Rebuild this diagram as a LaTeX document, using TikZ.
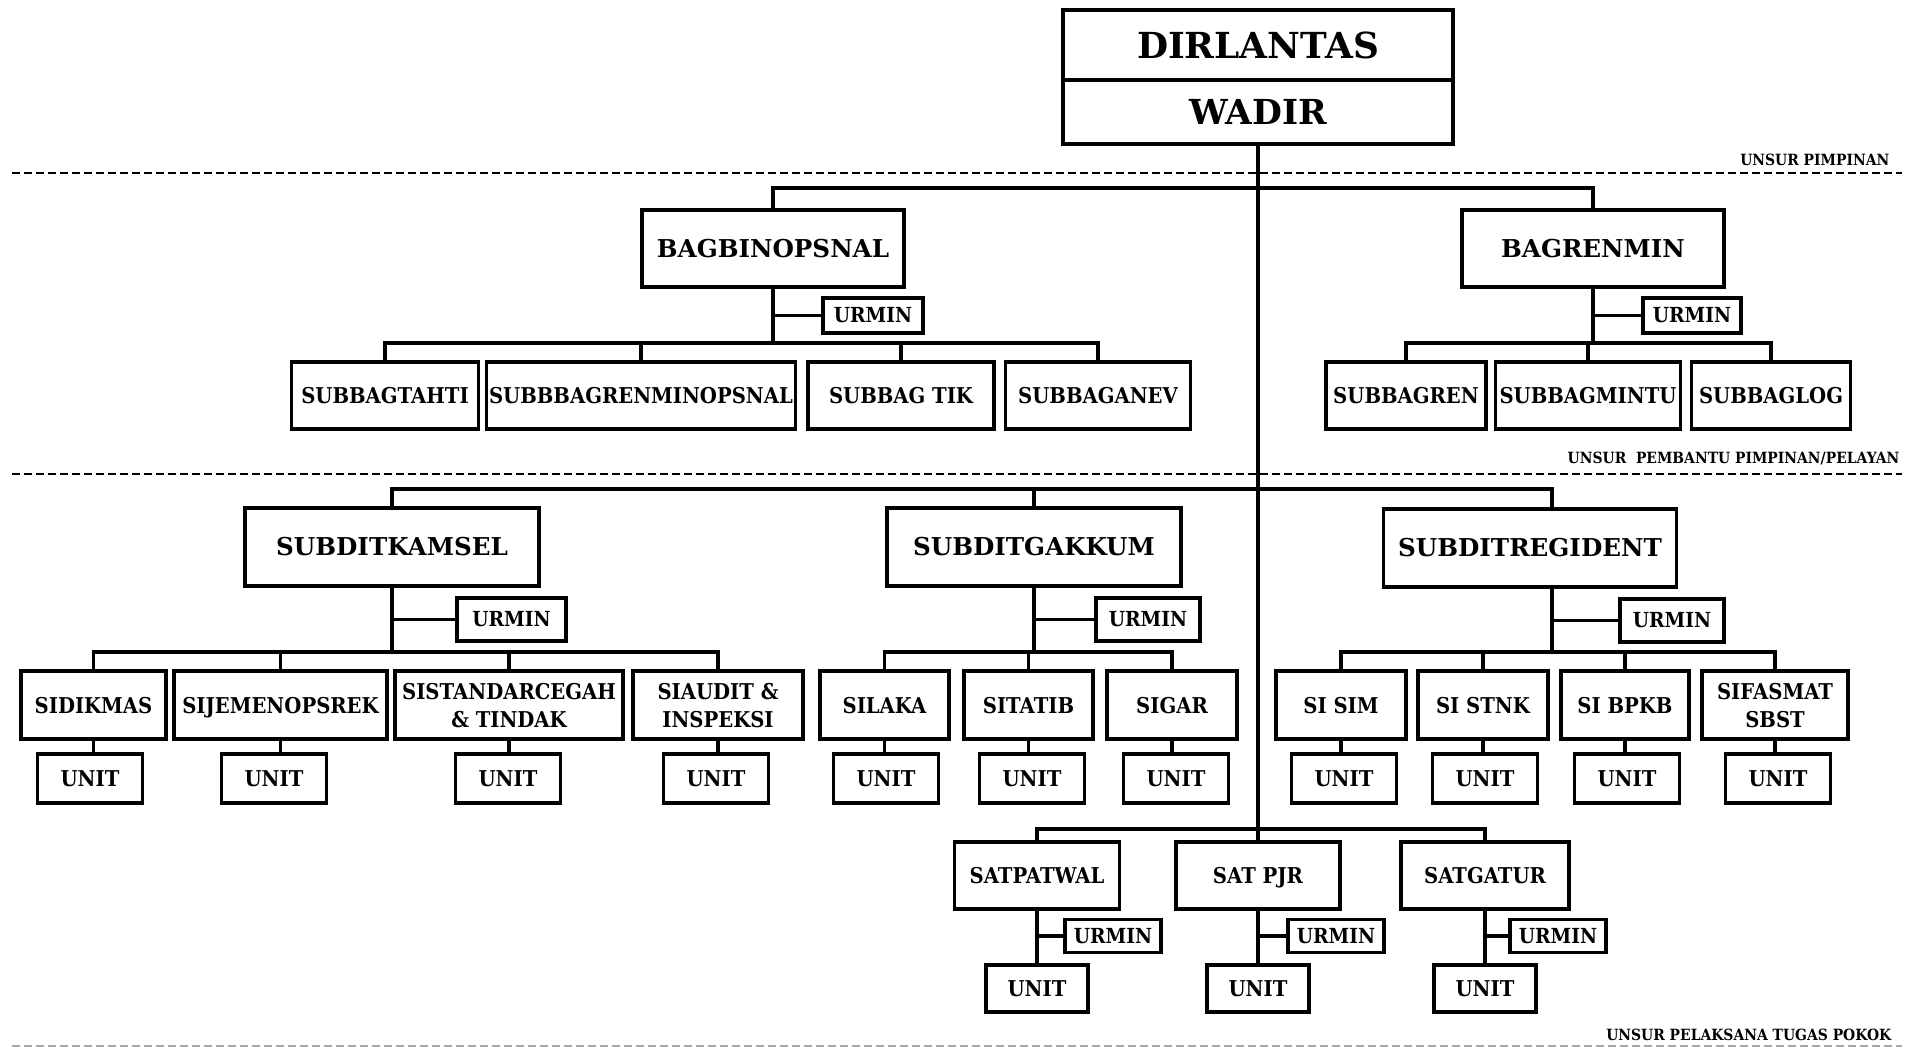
\documentclass[tikz,border=0pt]{standalone}
\usepackage{fontspec}
\setmainfont{DejaVu Serif}
\newfontfamily\condfont{DejaVu Serif}[FakeStretch=0.9]
\usepackage{tikz}
\usetikzlibrary{positioning}

\begin{document}
\begin{tikzpicture}[
        x=0.1mm, y=-0.1mm,
        topbox/.style={rectangle, draw, line width=1.25pt, minimum width=39mm, inner sep=0pt, font=\fontsize{10.2}{12}\selectfont\bfseries},
        bigbox/.style={rectangle, draw, line width=1.1pt, inner sep=0pt, minimum height=7.7mm, font=\fontsize{7}{8.5}\selectfont\bfseries},
        subbox/.style={rectangle, draw, line width=1.1pt, inner sep=0pt, text depth=0pt, minimum height=6.8mm, align=center, font=\condfont\fontsize{6.2}{8}\selectfont\bfseries},
        urbox/.style={rectangle, draw, line width=1.1pt, inner sep=0pt, minimum width=10.4mm, minimum height=4.3mm, font=\condfont\fontsize{5.9}{7}\selectfont\bfseries},
        unitbox/.style={rectangle, draw, line width=1.1pt, inner sep=0pt, minimum width=10.5mm, minimum height=4.9mm, font=\condfont\fontsize{6.2}{7.5}\selectfont\bfseries},
        conn/.style={line width=1pt},
        sepline/.style={line width=0.65pt, dash pattern=on 0.8mm off 0.4mm},
        unsur/.style={inner sep=0pt, font=\condfont\fontsize{4.4}{5}\selectfont\bfseries}
    ]
    \useasboundingbox (0,0) rectangle (1910,1050);

    % Separators and labels
    \draw[sepline] (12,173) -- (1902,173);
    \draw[sepline] (12,474) -- (1902,474);
    \draw[sepline, draw=black!35] (12,1046) -- (1902,1046);
    \node[unsur, anchor=south east] (lblpimp) at (1890,166) {UNSUR PIMPINAN};
    \node[unsur, anchor=south east] (lblbantu) at (1900,466) {UNSUR\ \ PEMBANTU PIMPINAN/PELAYAN};
    \node[unsur, anchor=south east] (lblpokok) at (1892,1041) {UNSUR PELAKSANA TUGAS POKOK};

    % Pimpinan
    \node[topbox, minimum height=7mm] (dir) at (1258,45) {DIRLANTAS};
    \node[topbox, minimum height=6.4mm, font=\fontsize{9.8}{12}\selectfont\bfseries] (wadir) at (1258,112) {WADIR};

    % Pembantu pimpinan
    \node[bigbox, minimum width=26.2mm] (bagbin) at (773,248.5) {BAGBINOPSNAL};
    \node[bigbox, minimum width=26.2mm] (bagren) at (1593,248.5) {BAGRENMIN};
    \node[urbox, minimum width=10mm, minimum height=3.5mm] (urbin) at (873,315.5) {URMIN};
    \node[urbox, minimum width=9.8mm, minimum height=3.5mm] (urren) at (1692,315.5) {URMIN};

    \node[subbox, minimum width=18.7mm, minimum height=6.7mm] (tahti) at (385,395.5) {SUBBAGTAHTI};
    \node[subbox, minimum width=30.9mm, minimum height=6.7mm] (renminops) at (641,395.5) {SUBBBAGRENMINOPSNAL};
    \node[subbox, minimum width=18.6mm, minimum height=6.7mm] (tik) at (901,395.5) {SUBBAG TIK};
    \node[subbox, minimum width=18.5mm, minimum height=6.7mm] (anev) at (1098,395.5) {SUBBAGANEV};
    \node[subbox, minimum width=16mm, minimum height=6.7mm] (sbren) at (1406,395.5) {SUBBAGREN};
    \node[subbox, minimum width=18.5mm, minimum height=6.7mm] (mintu) at (1588,395.5) {SUBBAGMINTU};
    \node[subbox, minimum width=15.9mm, minimum height=6.7mm] (sblog) at (1771,395.5) {SUBBAGLOG};

    % Pelaksana tugas pokok
    \node[bigbox, minimum width=29.4mm, minimum height=7.8mm] (kamsel) at (392,547) {SUBDITKAMSEL};
    \node[bigbox, minimum width=29.4mm, minimum height=7.8mm] (gakkum) at (1034,547) {SUBDITGAKKUM};
    \node[bigbox, minimum width=29.3mm, minimum height=7.8mm] (regident) at (1530,548) {SUBDITREGIDENT};
    \node[urbox, minimum width=10.9mm] (urkamsel) at (511.5,619.5) {URMIN};
    \node[urbox] (urgakkum) at (1148,619.5) {URMIN};
    \node[urbox] (urregident) at (1672,620.5) {URMIN};

    \node[subbox, minimum width=14.5mm] (sidikmas) at (93.5,705) {SIDIKMAS};
    \node[subbox, minimum width=21.3mm] (sijem) at (280.5,705) {SIJEMENOPSREK};
    \node[subbox, minimum width=22.8mm] (sistandar) at (509,705) {SISTANDARCEGAH\\\& TINDAK};
    \node[subbox, minimum width=17mm] (siaudit) at (718,705) {SIAUDIT \&\\INSPEKSI};
    \node[subbox, minimum width=12.9mm] (silaka) at (884.5,705) {SILAKA};
    \node[subbox, minimum width=12.9mm] (sitatib) at (1028.5,705) {SITATIB};
    \node[subbox, minimum width=13mm] (sigar) at (1172,705) {SIGAR};
    \node[subbox, minimum width=13mm] (sisim) at (1341,705) {SI SIM};
    \node[subbox, minimum width=13mm] (sistnk) at (1483,705) {SI STNK};
    \node[subbox, minimum width=12.8mm] (sibpkb) at (1625,705) {SI BPKB};
    \node[subbox, minimum width=14.6mm] (sifasmat) at (1775,705) {SIFASMAT\\SBST};

    \node[unitbox] (usidikmas) at (90,778.5) {UNIT};
    \node[unitbox] (usijem) at (274,778.5) {UNIT};
    \node[unitbox] (usistandar) at (508,778.5) {UNIT};
    \node[unitbox] (usiaudit) at (716,778.5) {UNIT};
    \node[unitbox] (usilaka) at (886,778.5) {UNIT};
    \node[unitbox] (usitatib) at (1032,778.5) {UNIT};
    \node[unitbox] (usigar) at (1176,778.5) {UNIT};
    \node[unitbox] (usisim) at (1344,778.5) {UNIT};
    \node[unitbox] (usistnk) at (1485,778.5) {UNIT};
    \node[unitbox] (usibpkb) at (1627,778.5) {UNIT};
    \node[unitbox] (usifasmat) at (1778,778.5) {UNIT};

    \node[subbox, minimum width=16.5mm, minimum height=6.7mm] (patwal) at (1037,875.5) {SATPATWAL};
    \node[subbox, minimum width=16.4mm, minimum height=6.7mm] (pjr) at (1258,875.5) {SAT PJR};
    \node[subbox, minimum width=16.8mm, minimum height=6.7mm] (gatur) at (1485,875.5) {SATGATUR};
    \node[urbox, minimum width=9.6mm, minimum height=3.3mm] (urpatwal) at (1113,936) {URMIN};
    \node[urbox, minimum width=9.6mm, minimum height=3.3mm] (urpjr) at (1336,936) {URMIN};
    \node[urbox, minimum width=9.6mm, minimum height=3.3mm] (urgatur) at (1558,936) {URMIN};
    \node[unitbox, minimum width=10.2mm, minimum height=4.7mm] (upatwal) at (1037,988.5) {UNIT};
    \node[unitbox, minimum width=10.2mm, minimum height=4.7mm] (upjr) at (1258,988.5) {UNIT};
    \node[unitbox, minimum width=10.2mm, minimum height=4.7mm] (ugatur) at (1485,988.5) {UNIT};

    % Lines
    \coordinate (bbar) at (773,343);
    \coordinate (rbar) at (1593,343);
    \coordinate (rgtop) at (1552,489);
    \coordinate (kbar) at (392,652);
    \coordinate (gbar) at (1034,652);
    \coordinate (rgbar) at (1552,652);
    \coordinate (sbar) at (1258,829);

    \draw[conn] (wadir.south) -- (pjr.north);
    \draw[conn] (bagbin.north) -- ++(0,-20) -| (bagren.north);

    \draw[conn] (bagbin.south) -- (bbar);
    \draw[conn] (urbin.west) -- (urbin.west -| bbar);
    \draw[conn] (tahti.north) |- (bbar) -| (anev.north);
    \draw[conn] (renminops.north) -- (renminops.north |- bbar);
    \draw[conn] (tik.north) -- (tik.north |- bbar);

    \draw[conn] (bagren.south) -- (rbar);
    \draw[conn] (urren.west) -- (urren.west -| rbar);
    \draw[conn] (sbren.north) |- (rbar) -| (sblog.north);
    \draw[conn] (mintu.north) -- (mintu.north |- rbar);

    \draw[conn] (kamsel.north) |- (rgtop) -- (rgtop |- regident.north);
    \draw[conn] (gakkum.north) -- (gakkum.north |- rgtop);

    \draw[conn] (kamsel.south) -- (kbar);
    \draw[conn] (urkamsel.west) -- (urkamsel.west -| kbar);
    \draw[conn] (sidikmas.north) |- (kbar) -| (siaudit.north);
    \draw[conn] (sijem.north) -- (sijem.north |- kbar);
    \draw[conn] (sistandar.north) -- (sistandar.north |- kbar);

    \draw[conn] (gakkum.south) -- (gbar);
    \draw[conn] (urgakkum.west) -- (urgakkum.west -| gbar);
    \draw[conn] (silaka.north) |- (gbar) -| (sigar.north);
    \draw[conn] (sitatib.north) -- (sitatib.north |- gbar);

    \draw[conn] (rgtop |- regident.south) -- (rgbar);
    \draw[conn] (urregident.west) -- (urregident.west -| rgbar);
    \draw[conn] (sisim.north) |- (rgbar) -| (sifasmat.north);
    \draw[conn] (sistnk.north) -- (sistnk.north |- rgbar);
    \draw[conn] (sibpkb.north) -- (sibpkb.north |- rgbar);

    \draw[conn] (sidikmas.south) -- (sidikmas.south |- usidikmas.north);
    \draw[conn] (sijem.south) -- (sijem.south |- usijem.north);
    \draw[conn] (sistandar.south) -- (sistandar.south |- usistandar.north);
    \draw[conn] (siaudit.south) -- (siaudit.south |- usiaudit.north);
    \draw[conn] (silaka.south) -- (silaka.south |- usilaka.north);
    \draw[conn] (sitatib.south) -- (sitatib.south |- usitatib.north);
    \draw[conn] (sigar.south) -- (sigar.south |- usigar.north);
    \draw[conn] (sisim.south) -- (sisim.south |- usisim.north);
    \draw[conn] (sistnk.south) -- (sistnk.south |- usistnk.north);
    \draw[conn] (sibpkb.south) -- (sibpkb.south |- usibpkb.north);
    \draw[conn] (sifasmat.south) -- (sifasmat.south |- usifasmat.north);

    \draw[conn] (patwal.north) |- (sbar) -| (gatur.north);
    \draw[conn] (patwal.south) -- (upatwal.north);
    \draw[conn] (urpatwal.west) -- (urpatwal.west -| patwal.south);
    \draw[conn] (pjr.south) -- (upjr.north);
    \draw[conn] (urpjr.west) -- (urpjr.west -| pjr.south);
    \draw[conn] (gatur.south) -- (ugatur.north);
    \draw[conn] (urgatur.west) -- (urgatur.west -| gatur.south);
\end{tikzpicture}
\end{document}
